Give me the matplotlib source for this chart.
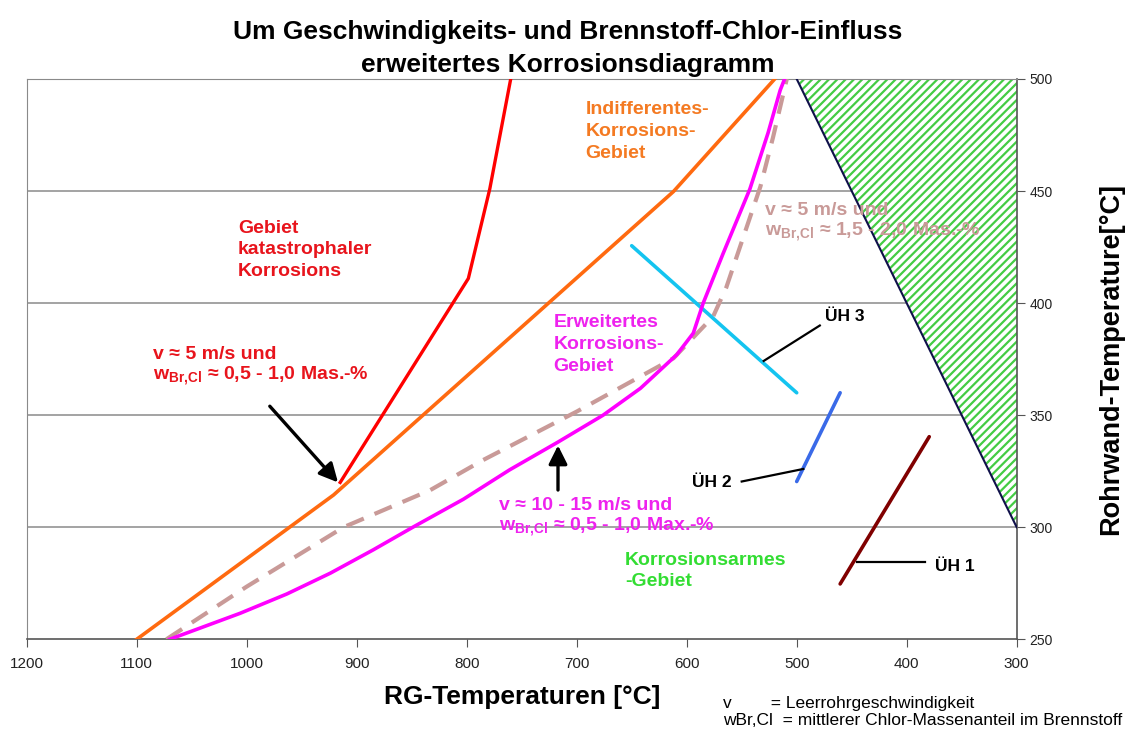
import matplotlib
matplotlib.use('Agg')
import matplotlib.pyplot as plt

plt.rcParams['font.family'] = ['Liberation Sans', 'DejaVu Sans']
plt.rcParams['mathtext.fontset'] = 'custom'
plt.rcParams['mathtext.rm'] = 'Liberation Sans:bold'
plt.rcParams['mathtext.bf'] = 'Liberation Sans:bold'
plt.rcParams['hatch.linewidth'] = 1.6
plt.rcParams['hatch.color'] = '#44cc44'

# curves: RG temperature (x) vs. tube wall temperature (y)
kat_x = [915, 798.5, 779, 760]
kat_y = [320, 411, 451, 500]

indiff_x = [1100, 921, 612, 520]
indiff_y = [250, 314.4, 449.8, 500]

erw_x = [1070, 1006, 963.6, 924, 885, 849, 803, 761, 717, 676, 642, 609, 594, 585, 567, 542.5, 526, 515, 511]
erw_y = [250, 261.6, 270.2, 279.5, 289.9, 300, 312.5, 325.6, 338, 350, 362, 377, 386.6, 400, 422, 451, 476, 495, 500]

v5_x = [1073, 1000, 912, 833, 785, 700, 612, 576, 564, 533, 521.5, 509]
v5_y = [250, 273.5, 300, 316.6, 330, 351.6, 375.4, 394, 407, 452, 474, 500]

uh3_x = [650, 500]
uh3_y = [425.6, 360]
uh2_x = [500, 460.5]
uh2_y = [320.4, 360]
uh1_x = [460.5, 379.5]
uh1_y = [274.7, 340.4]

# low-corrosion area (hatched)
arm_x = [500, 300, 300]
arm_y = [500, 500, 300]

xticks = [1200, 1100, 1000, 900, 800, 700, 600, 500, 400, 300]
yticks = [250, 300, 350, 400, 450, 500]

fig = plt.figure(figsize=(11.43, 7.31), dpi=100)
ax = fig.add_axes([0.02336, 0.12545, 0.86614, 0.7665])

for yv in yticks[1:]:
    ax.axhline(yv, color='#8a8a8a', lw=1.1, zorder=1)

ax.fill(arm_x, arm_y, facecolor='white', hatch='////', lw=0, zorder=2)
ax.plot([arm_x[0], arm_x[2]], [arm_y[0], arm_y[2]], color='#10104a', lw=1.5, zorder=3)

ax.plot(indiff_x, indiff_y, color='#ff6a10', lw=2.6, zorder=4)
ax.plot(kat_x, kat_y, color='#ff0000', lw=2.4, zorder=4)
ax.plot(v5_x, v5_y, color='#c99a98', lw=3.0, dashes=(4.5, 2.8), zorder=4)
ax.plot(erw_x, erw_y, color='#ff00ff', lw=2.6, zorder=5)
ax.plot(uh3_x, uh3_y, color='#14c4f0', lw=2.6, solid_capstyle='round', zorder=4)
ax.plot(uh2_x, uh2_y, color='#3a6ae8', lw=2.6, solid_capstyle='round', zorder=4)
ax.plot(uh1_x, uh1_y, color='#800000', lw=2.6, solid_capstyle='round', zorder=4)

# leader lines
ax.plot([530, 479], [374.2, 390], color='black', lw=1.6, zorder=4)
ax.plot([550, 494], [320.4, 326], color='black', lw=1.6, zorder=4)
ax.plot([445.5, 383.4], [284.4, 284.4], color='black', lw=1.6, zorder=4)
ax.text(474, 394, 'ÜH 3', fontsize=12.5, fontweight='bold', va='center', ha='left')
ax.text(559, 320, 'ÜH 2', fontsize=12.5, fontweight='bold', va='center', ha='right')
ax.text(374.5, 282.5, 'ÜH 1', fontsize=12.5, fontweight='bold', va='center', ha='left')

# arrows
arr = dict(arrowstyle='-|>', color='black', lw=2.4, mutation_scale=28, shrinkA=0, shrinkB=0)
ax.annotate('', xy=(917, 320), xytext=(979, 354), arrowprops=arr, zorder=6)
ax.annotate('', xy=(717, 336.5), xytext=(717, 316.6), arrowprops=arr, zorder=6)

# region labels
ax.text(1008, 437, 'Gebiet\nkatastrophaler\nKorrosions', color='#e8141c', fontsize=14,
        fontweight='bold', va='top', ha='left', linespacing=1.33)
ax.text(692, 490, 'Indifferentes-\nKorrosions-\nGebiet', color='#f47a22', fontsize=14,
        fontweight='bold', va='top', ha='left', linespacing=1.38)
ax.text(721, 395, 'Erweitertes\nKorrosions-\nGebiet', color='#ee22ee', fontsize=14,
        fontweight='bold', va='top', ha='left', linespacing=1.36)
ax.text(656, 289, 'Korrosionsarmes\n-Gebiet', color='#33dd33', fontsize=14,
        fontweight='bold', va='top', ha='left', linespacing=1.33)
ax.text(1085, 381, 'v ≈ 5 m/s und\nw$_{\\mathbf{Br{,}Cl}}$ ≈ 0,5 - 1,0 Mas.-%', color='#e8141c',
        fontsize=14, fontweight='bold', va='top', ha='left', linespacing=1.12)
ax.text(771, 313.5, 'v ≈ 10 - 15 m/s und\nw$_{\\mathbf{Br{,}Cl}}$ ≈ 0,5 - 1,0 Max.-%', color='#ee22ee',
        fontsize=14, fontweight='bold', va='top', ha='left', linespacing=1.15)
ax.text(529, 445, 'v ≈ 5 m/s und\nw$_{\\mathbf{Br{,}Cl}}$ ≈ 1,5 - 2,0 Mas.-%', color='#c99a98',
        fontsize=14, fontweight='bold', va='top', ha='left', linespacing=1.12, zorder=7)

ax.set_xlim(1200, 300)
ax.set_ylim(250, 500)
ax.set_xticks(xticks)
ax.set_yticks(yticks)
ax.yaxis.tick_right()
ax.yaxis.set_label_position('right')
ax.tick_params(axis='both', direction='out', length=6, color='#555555',
               labelcolor='#222222')
ax.tick_params(axis='x', labelsize=11, pad=7)
ax.tick_params(axis='y', labelsize=10, pad=3)
for s in ['left', 'top']:
    ax.spines[s].set_color('#8a8a8a')
for s in ['bottom', 'right']:
    ax.spines[s].set_color('#555555')
    ax.spines[s].set_linewidth(1.2)

ax.set_xlabel('RG-Temperaturen [°C]', fontsize=19, fontweight='bold', labelpad=10)
ax.set_ylabel('Rohrwand-Temperature[°C]', fontsize=19.5, fontweight='bold', labelpad=33)

fig.text(0.497, 0.9473, 'Um Geschwindigkeits- und Brennstoff-Chlor-Einfluss',
         ha='center', va='baseline', fontsize=19, fontweight='bold')
fig.text(0.497, 0.9015, 'erweitertes Korrosionsdiagramm',
         ha='center', va='baseline', fontsize=19, fontweight='bold')
fig.text(0.6325, 0.0265, 'v        = Leerrohrgeschwindigkeit\nwBr,Cl  = mittlerer Chlor-Massenanteil im Brennstoff',
         ha='left', va='center', fontsize=12.5, linespacing=1.15)

fig.savefig('out.png', dpi=100)
